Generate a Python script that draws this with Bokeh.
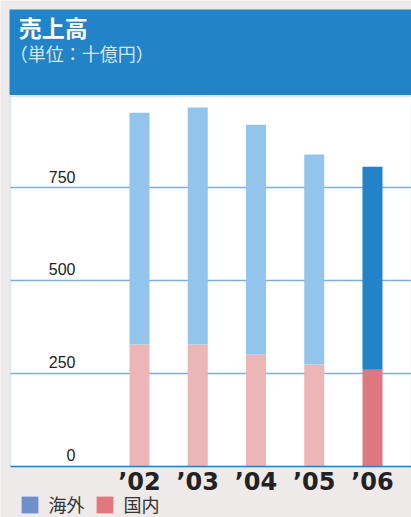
from bokeh.plotting import figure
from bokeh.models import (Range1d, BoxAnnotation, Label, Legend, LegendItem,
                          ColumnDataSource)
from bokeh.embed import file_html
from bokeh.resources import INLINE
from bokeh.core.properties import value

# ---- data ----
years = ["’02", "’03", "’04", "’05", "’06"]
domestic = [328, 328, 301, 274, 260]
overseas = [623, 637, 618, 565, 546]
y_ticks = [0, 250, 500, 750]
y_tick_labels = ["0", "250", "500", "750"]
title = "売上高"
subtitle = "（単位：十億円）"
legend_labels = ["海外", "国内"]

# ---- styles ----
overseas_colors = ["#93c5ec"] * 4 + ["#2283c8"]
domestic_colors = ["#ecb5b6"] * 4 + ["#de7880"]
legend_colors = ["#6e8fca", "#e07880"]
HEADER = "#2283c8"
BG = "#eeeae9"

W, H = 411, 517
X0, X1 = -2.3863, 4.6695          # x data range (bar index)
Y0, Y1 = -137.10, 1252.69         # y data range (十億円)
PLOT_LEFT = -2.2146               # data x of the white panel's left edge

idx = list(range(len(years)))
totals = [d + o for d, o in zip(domestic, overseas)]
src = ColumnDataSource(dict(x=idx, dom=domestic, tot=totals,
                            oc=overseas_colors, dc=domestic_colors, lab=years))

p = figure(width=W, height=H, output_backend="svg", toolbar_location=None,
           x_range=Range1d(X0, X1), y_range=Range1d(Y0, Y1),
           x_axis_location=None, y_axis_location=None,
           min_border=0, background_fill_color=BG, border_fill_color=BG,
           outline_line_color=None)
p.grid.visible = False

# white panel and blue header
p.add_layout(BoxAnnotation(left=10, right=W, bottom=51, top=421,
                           left_units="screen", right_units="screen",
                           bottom_units="screen", top_units="screen",
                           fill_color="white", fill_alpha=1,
                           line_color="#9ccbee", line_width=1.5, level="image"))
p.add_layout(BoxAnnotation(left=9, right=W, bottom=422.5, top=508,
                           left_units="screen", right_units="screen",
                           bottom_units="screen", top_units="screen",
                           fill_color=HEADER, fill_alpha=1, line_color=None,
                           level="image"))

# grid lines (under bars)
grid_y = y_ticks[1:]
p.segment(x0=[PLOT_LEFT] * len(grid_y), x1=[X1] * len(grid_y), y0=grid_y, y1=grid_y,
          line_color="#7eaedb", line_width=1.6)

# stacked bars
p.vbar(x="x", bottom=0, top="dom", width=0.3433, fill_color="dc",
       line_color=None, source=src)
p.vbar(x="x", bottom="dom", top="tot", width=0.3433, fill_color="oc",
       line_color=None, source=src)

# baseline (x axis line)
p.segment(x0=[PLOT_LEFT], x1=[X1], y0=[0], y1=[0], line_color="#2080c8", line_width=1.5)

# y tick labels
p.text(x=[-1.0987] * len(y_ticks), y=y_ticks, text=y_tick_labels,
       text_align="right", text_baseline="alphabetic", y_offset=-11,
       text_font=value("Liberation Sans"), text_font_size="16px",
       text_color="#222222")

# x category labels
p.text(x="x", y=0, text="lab", source=src, text_align="center",
       text_baseline="alphabetic", y_offset=16,
       text_font=value("DejaVu Sans"), text_font_style="bold",
       text_font_size="24px", text_color="#222222")

# header texts
p.add_layout(Label(x=18.3, y=491, x_units="screen", y_units="screen", text=title,
                   text_font="Noto Sans CJK JP", text_font_style="bold",
                   text_font_size="23px", text_color="white",
                   text_baseline="alphabetic"))
p.add_layout(Label(x=9.3, y=464.5, x_units="screen", y_units="screen", text=subtitle,
                   text_font="Noto Sans CJK JP", text_font_size="18px",
                   text_color="#d5e6f5", text_baseline="alphabetic"))

# legend (proxy renderers with a single NaN point, so only the legend swatch shows)
nan = float("nan")
r1 = p.vbar(x=[nan], top=[nan], width=0.3, fill_color=legend_colors[0], line_color=None)
r2 = p.vbar(x=[nan], top=[nan], width=0.3, fill_color=legend_colors[1], line_color=None)
legend = Legend(items=[LegendItem(label=legend_labels[0], renderers=[r1]),
                       LegendItem(label=legend_labels[1], renderers=[r2])],
                orientation="horizontal", location=(18.5, 0),
                glyph_width=21, glyph_height=21, label_height=21,
                label_standoff=9, spacing=9,
                padding=0, margin=0, border_line_color=None,
                background_fill_alpha=0,
                label_text_font="Noto Sans CJK JP", label_text_font_size="18px",
                label_text_color="#333333")
p.add_layout(legend, "center")

open("out.html", "w").write(file_html(p, INLINE))
